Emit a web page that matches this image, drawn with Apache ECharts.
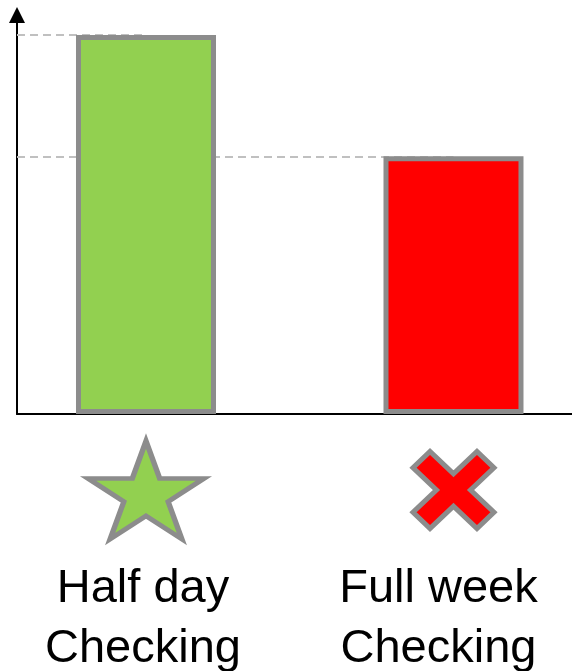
<!DOCTYPE html>
<html>
<head>
<meta charset="utf-8">
<script src="https://cdn.jsdelivr.net/npm/echarts@6/dist/echarts.min.js"></script>
<style>
  html, body { margin: 0; padding: 0; background: #ffffff; }
  #chart { width: 572px; height: 671px; }
</style>
</head>
<body>
<div id="chart"></div>
<script>
// ---- data ----
const categories = ['Half day\nChecking', 'Full week\nChecking'];
const values = [100, 68];
const barColors = ['#92D050', '#FF0000'];
const markerNames = ['star', 'cross'];

// ---- symbol shapes ----
const starPath = 'path://M50,0 L61.23,34.55 L97.55,34.55 L68.17,55.9 L79.39,90.45 L50,69.1 L20.61,90.45 L31.83,55.9 L2.45,34.55 L38.77,34.55 Z';
const crossPath = 'path://M0,21 L21,0 L50,29 L79,0 L100,21 L71,50 L100,79 L79,100 L50,71 L21,100 L0,79 L29,50 Z';
const symbolFor = { star: { path: starPath, size: [116, 98] }, cross: { path: crossPath, size: [81, 77] } };
const labelShift = [[-3, 129], [-15, 129]];

const xMin = -0.4195, xMax = 1.3854;
const yMax = 105.3;
const font = '"Liberation Sans", Arial, Helvetica, sans-serif';
const edge = '#8C8C8C';

const chart = echarts.init(document.getElementById('chart'), null, { renderer: 'canvas' });

const option = {
  animation: false,
  backgroundColor: '#ffffff',
  grid: [
    { left: 17, right: 0, top: 15, bottom: 257 },
    { left: 17, right: 0, top: 440, height: 100 }
  ],
  xAxis: [
    {
      type: 'value', gridIndex: 0, min: xMin, max: xMax,
      axisLine: { show: true, onZero: false, lineStyle: { color: '#000', width: 2 } },
      axisTick: { show: false }, axisLabel: { show: false }, splitLine: { show: false }
    },
    {
      type: 'value', gridIndex: 1, min: xMin, max: xMax, show: false
    }
  ],
  yAxis: [
    {
      type: 'value', gridIndex: 0, min: 0, max: yMax,
      axisLine: {
        show: true, onZero: false,
        symbol: ['none', 'triangle'], symbolSize: [16, 16], symbolOffset: [0, 0],
        lineStyle: { color: '#000', width: 2 }
      },
      axisTick: { show: false }, axisLabel: { show: false }, splitLine: { show: false }
    },
    {
      type: 'value', gridIndex: 1, min: 0, max: 1, show: false
    }
  ],
  series: [
    {
      type: 'bar',
      xAxisIndex: 0, yAxisIndex: 0,
      barWidth: 140,
      z: 2,
      data: values.map((v, i) => ({
        value: [i, v],
        itemStyle: { color: barColors[i], borderColor: edge, borderWidth: 5 }
      })),
      markLine: {
        silent: true,
        z: 1,
        symbol: ['none', 'none'],
        label: { show: false },
        lineStyle: { color: '#C0C0C0', type: [8, 5], width: 2 },
        data: values.map((v, i) => [
          { coord: [xMin, v] },
          { coord: [i, v] }
        ])
      }
    },
    {
      type: 'scatter',
      xAxisIndex: 1, yAxisIndex: 1,
      silent: true,
      data: categories.map((c, i) => ({
        name: c,
        value: [i, 0.5],
        symbol: symbolFor[markerNames[i]].path,
        symbolSize: symbolFor[markerNames[i]].size,
        itemStyle: { color: barColors[i], borderColor: edge, borderWidth: 5, opacity: 1 },
        label: { offset: labelShift[i] }
      })),
      label: {
        show: true,
        position: 'inside',
        formatter: p => p.name,
        fontFamily: font,
        fontSize: 47,
        lineHeight: 60,
        color: '#000000',
        textBorderWidth: 0,
        align: 'center'
      }
    }
  ]
};

chart.setOption(option);
</script>
</body>
</html>
